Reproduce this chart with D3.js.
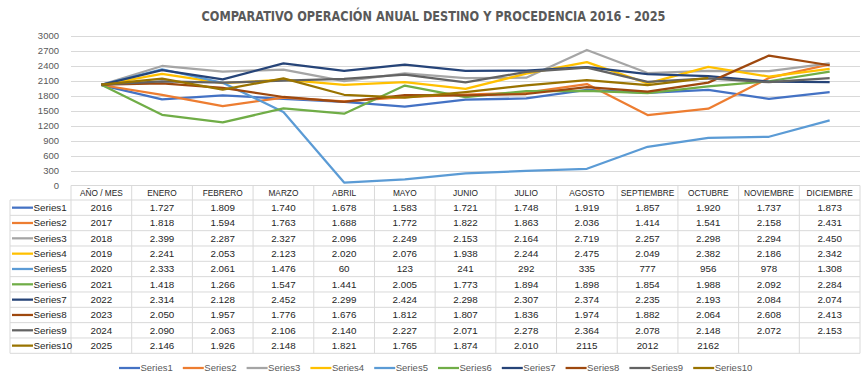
<!DOCTYPE html>
<html>
<head>
<meta charset="utf-8">
<script src="https://cdn.jsdelivr.net/npm/d3@7"></script>
<style>
  body { margin: 0; background: #fff; }
  svg { display: block; font-family: "Liberation Sans", Arial, sans-serif; }
</style>
</head>
<body>
<svg id="chart" width="866" height="382"></svg>
<script>
const width = 866, height = 382

const columns = ['AÑO / MES', 'ENERO', 'FEBRERO', 'MARZO', 'ABRIL', 'MAYO', 'JUNIO', 'JULIO', 'AGOSTO', 'SEPTIEMBRE', 'OCTUBRE', 'NOVIEMBRE', 'DICIEMBRE']
const seriesNames = ['Series1', 'Series2', 'Series3', 'Series4', 'Series5', 'Series6', 'Series7', 'Series8', 'Series9', 'Series10']
const colors = ['#4472C4', '#ED7D31', '#A5A5A5', '#FFC000', '#5B9BD5', '#70AD47', '#264478', '#9E480E', '#636363', '#997300']
const yTicks = [0, 300, 600, 900, 1200, 1500, 1800, 2100, 2400, 2700, 3000]

// first value of each row is the year, plotted like the months
const s1  = [2016, 1727, 1809, 1740, 1678, 1583, 1721, 1748, 1919, 1857, 1920, 1737, 1873]
const s2  = [2017, 1818, 1594, 1763, 1688, 1772, 1822, 1863, 2036, 1414, 1541, 2158, 2431]
const s3  = [2018, 2399, 2287, 2327, 2096, 2249, 2153, 2164, 2719, 2257, 2298, 2294, 2450]
const s4  = [2019, 2241, 2053, 2123, 2020, 2076, 1938, 2244, 2475, 2049, 2382, 2186, 2342]
const s5  = [2020, 2333, 2061, 1476, 60, 123, 241, 292, 335, 777, 956, 978, 1308]
const s6  = [2021, 1418, 1266, 1547, 1441, 2005, 1773, 1894, 1898, 1854, 1988, 2092, 2284]
const s7  = [2022, 2314, 2128, 2452, 2299, 2424, 2298, 2307, 2374, 2235, 2193, 2084, 2074]
const s8  = [2023, 2050, 1957, 1776, 1676, 1812, 1807, 1836, 1974, 1882, 2064, 2608, 2413]
const s9  = [2024, 2090, 2063, 2106, 2140, 2227, 2071, 2278, 2364, 2078, 2148, 2072, 2153]
const s10 = [2025, 2146, 1926, 2148, 1821, 1765, 1874, 2010, 2115, 2012, 2162, null, null]
const values = [s1, s2, s3, s4, s5, s6, s7, s8, s9, s10]

// cells the sheet shows without thousands separator: [series, column]
const plainCells = [[9, 8], [9, 9], [9, 10]]

const svg = d3.select('#chart')
const grid = '#D9D9D9'

const x = d3.scaleBand().domain(columns).range([71, 860])
const y = d3.scaleLinear().domain([0, 3000]).range([185.5, 36])
const cx = c => x(c) + x.bandwidth()/2

const fmtDot = v => {
  if (v === null) return ''
  if (v < 1000) return String(v)
  return d3.format(',')(v).replace(/,/g, '.')
}

// title
svg.append('text')
   .attr('x', width/2 + 0.5).attr('y', 21)
   .attr('text-anchor', 'middle')
   .attr('fill', '#595959')
   .style('font-family', '"DejaVu Sans Condensed", sans-serif')
   .style('font-size', '13.6px')
   .style('font-weight', 'bold')
   .attr('textLength', 464).attr('lengthAdjust', 'spacingAndGlyphs')
   .text('COMPARATIVO OPERACIÓN ANUAL DESTINO Y PROCEDENCIA 2016 - 2025')

// gridlines + y labels
svg.append('g').selectAll('line').data(yTicks.filter(d => d > 0)).enter().append('line')
   .attr('x1', 71).attr('x2', 860)
   .attr('y1', d => Math.round(y(d)) + 0.5).attr('y2', d => Math.round(y(d)) + 0.5)
   .attr('stroke', grid).attr('stroke-width', 1)

svg.append('g').selectAll('text').data(yTicks).enter().append('text')
   .attr('x', 59).attr('y', d => y(d))
   .attr('dy', '0.35em')
   .attr('text-anchor', 'end')
   .attr('fill', '#595959')
   .style('font-size', '9.5px')
   .text(d => d)

// lines
const line = d3.line()
  .defined(d => d.v !== null)
  .x(d => cx(d.c))
  .y(d => y(d.v))

svg.append('g').selectAll('path').data(values).enter().append('path')
   .attr('d', row => line(row.map((v, i) => ({c: columns[i], v}))))
   .attr('fill', 'none')
   .attr('stroke', (d, i) => colors[i])
   .attr('stroke-width', 2.25)
   .attr('stroke-linejoin', 'round')

// data table
const tableTop = 185.5, headerH = 14.5, rowH = 15.33
const tableBottom = tableTop + headerH + rowH*values.length
const rowY = i => tableTop + headerH + rowH*i
const table = svg.append('g')
const left = 10, right = 860

// horizontal borders
table.append('line').attr('x1', 71).attr('x2', right).attr('y1', tableTop).attr('y2', tableTop)
     .attr('stroke', grid)
d3.range(values.length + 1).forEach(i => {
  table.append('line').attr('x1', left).attr('x2', right)
       .attr('y1', rowY(i)).attr('y2', rowY(i)).attr('stroke', grid)
})
// vertical borders
table.append('line').attr('x1', left).attr('x2', left)
     .attr('y1', rowY(0)).attr('y2', tableBottom).attr('stroke', grid)
columns.forEach(c => {
  table.append('line').attr('x1', x(c)).attr('x2', x(c))
       .attr('y1', tableTop).attr('y2', tableBottom).attr('stroke', grid)
})
table.append('line').attr('x1', right).attr('x2', right)
     .attr('y1', tableTop).attr('y2', tableBottom).attr('stroke', grid)

// header
table.selectAll('text.head').data(columns).enter().append('text')
     .attr('class', 'head')
     .attr('x', d => cx(d)).attr('y', tableTop + headerH/2)
     .attr('dy', '0.35em').attr('text-anchor', 'middle')
     .attr('fill', '#262626')
     .style('font-size', '8.3px')
     .text(d => d)

// rows
values.forEach((row, si) => {
  const yy = rowY(si) + rowH/2
  table.append('line')
       .attr('x1', 12).attr('x2', 33).attr('y1', yy).attr('y2', yy)
       .attr('stroke', colors[si]).attr('stroke-width', 2.25)
  table.append('text')
       .attr('x', 33.5).attr('y', yy).attr('dy', '0.35em')
       .attr('fill', '#262626').style('font-size', '9.8px')
       .text(seriesNames[si])
  table.selectAll('text.cell' + si).data(row).enter().append('text')
       .attr('class', 'cell' + si)
       .attr('x', (d, i) => cx(columns[i])).attr('y', yy)
       .attr('dy', '0.35em').attr('text-anchor', 'middle')
       .attr('fill', '#262626').style('font-size', '9.8px')
       .text((d, i) => {
         if (i === 0 || plainCells.some(p => p[0] === si && p[1] === i)) return d === null ? '' : String(d)
         return fmtDot(d)
       })
})

// legend
const legend = svg.append('g').attr('transform', 'translate(119,368)')
const legendItem = legend.selectAll('g').data(seriesNames).enter().append('g')
   .attr('transform', (d, i) => `translate(${i*63.8},0)`)
legendItem.append('line')
   .attr('x1', 0).attr('x2', 21).attr('y1', 0).attr('y2', 0)
   .attr('stroke', (d, i) => colors[i]).attr('stroke-width', 2.25)
legendItem.append('text')
   .attr('x', 21.5).attr('y', 0).attr('dy', '0.35em')
   .attr('fill', '#595959').style('font-size', '9.5px')
   .text(d => d)
</script>
</body>
</html>
